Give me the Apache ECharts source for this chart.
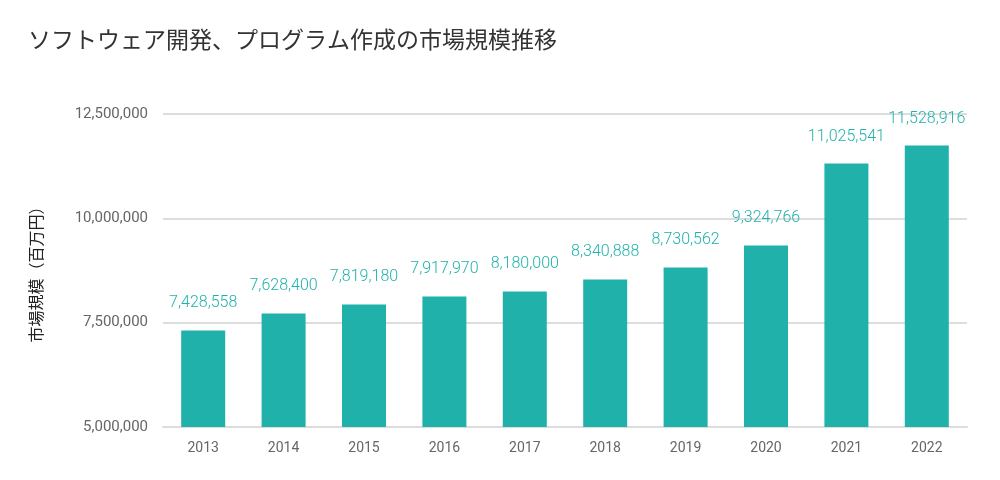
<!DOCTYPE html>
<html>
<head>
<meta charset="utf-8">
<script src="https://cdn.jsdelivr.net/npm/echarts@6/dist/echarts.min.js"></script>
<style>html,body{margin:0;padding:0;background:#fff}#c{width:1000px;height:480px}</style>
</head>
<body>
<div id="c"></div>
<script>
const titleText = 'ソフトウェア開発、プログラム作成の市場規模推移';
const yAxisName = '市場規模（百万円）';
const categories = ['2013','2014','2015','2016','2017','2018','2019','2020','2021','2022'];
// bar heights as drawn in the picture
const barValues = [7315000, 7722000, 7937000, 8129000, 8249000, 8536000, 8823000, 9350000, 11313000, 11744000];
// value labels printed above bars
const labelValues = [7428558, 7628400, 7819180, 7917970, 8180000, 8340888, 8730562, 9324766, 11025541, 11528916];
const yMin = 5000000, yMax = 12500000, yInterval = 2500000;

const fmt = v => v.toLocaleString('en-US');
const chart = echarts.init(document.getElementById('c'), null, {renderer: 'canvas'});
chart.setOption({
  animation: false,
  backgroundColor: '#fff',
  title: {
    text: titleText, left: 28, top: 28, padding: 0,
    textStyle: {fontFamily: '"Noto Sans CJK JP"', fontSize: 23, fontWeight: 'normal', color: '#333'}
  },
  grid: {left: 163, right: 33, top: 114, bottom: 53, containLabel: false},
  xAxis: {
    type: 'category', data: categories,
    axisLine: {lineStyle: {color: '#dddddd', width: 2}},
    axisTick: {show: false},
    axisLabel: {color: '#666', fontFamily: 'Roboto', fontSize: 14, margin: 14}
  },
  yAxis: {
    type: 'value', min: yMin, max: yMax, interval: yInterval,
    name: yAxisName, nameLocation: 'middle', nameGap: 119, nameRotate: 90,
    nameTextStyle: {fontFamily: '"Noto Sans CJK JP"', fontSize: 16, color: '#222'},
    axisLine: {show: false}, axisTick: {show: false},
    splitLine: {lineStyle: {color: '#dddddd', width: 2}},
    axisLabel: {color: '#666', fontFamily: 'Roboto', fontSize: 15, margin: 15, formatter: v => fmt(v)}
  },
  series: [{
    type: 'bar', data: barValues, barWidth: 44,
    itemStyle: {color: '#20b2aa'},
    label: {
      show: true, position: 'top', distance: 19,
      color: '#20b2aa', fontFamily: 'Roboto', fontWeight: 300, fontSize: 16,
      formatter: p => fmt(labelValues[p.dataIndex])
    }
  }]
});
</script>
</body>
</html>
